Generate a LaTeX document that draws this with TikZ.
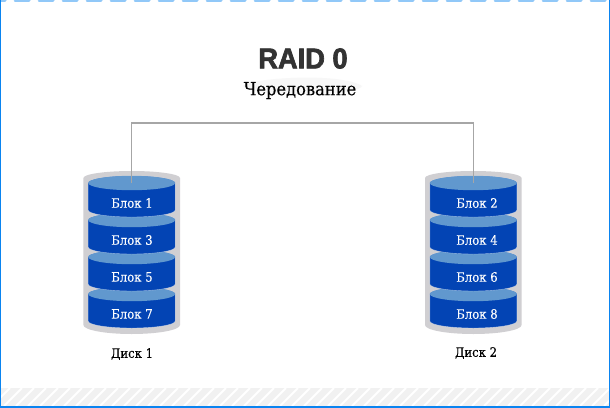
\documentclass[tikz,border=0pt]{standalone}
\usepackage{fontspec}
\setmainfont[FakeBold=0.25]{DejaVu Serif Condensed}
\newfontfamily\titlefont[FakeBold=2.4,FakeStretch=0.95]{Liberation Sans Bold}
\definecolor{diskblue}{HTML}{0344B4}
\definecolor{disktop}{HTML}{6198CE}
\definecolor{diskgrey}{HTML}{D0CFD2}
\definecolor{frameblue}{HTML}{0A84F0}
\definecolor{stripgrey}{HTML}{F1F1F1}
\definecolor{linegrey}{HTML}{A6A6A6}
\definecolor{titlegrey}{HTML}{333333}
\tikzset{
    blocktext/.style={text=white, font=\fontsize{9.7}{11}\selectfont, inner sep=0pt},
    disktext/.style={text=black, font=\fontsize{9.7}{11}\selectfont, inner sep=0pt},
    cyl/.pic={
        \fill[diskblue, draw=white, draw opacity=0.5, line width=0.3pt]
            (-43.5,0) -- (-43.5,27) arc[start angle=180, end angle=360, x radius=43.5, y radius=-7]
            -- (43.5,0) arc[start angle=0, end angle=180, x radius=43.5, y radius=-7] -- cycle;
        \fill[disktop] (0,0) ellipse[x radius=43.5, y radius=7.2];
    },
    shell/.pic={
        \fill[diskgrey] (-48.3,0) -- (-48.3,147) arc[start angle=180, end angle=360, x radius=48.3, y radius=-9]
            -- (48.3,0) arc[start angle=0, end angle=180, x radius=48.3, y radius=-7] -- cycle;
    }
}
\begin{document}
\begin{tikzpicture}[x=0.75pt, y=-0.75pt]
    \useasboundingbox (0,0) rectangle (610,407);
    \fill[white] (0,0) rectangle (610,407);

    % footer strip
    \fill[stripgrey] (0,388) rectangle (610,406);
    \fill[frameblue!45] (0,0) rectangle (610,2);
    \begin{scope}
        \clip (0,388) rectangle (610,406);
        \foreach \i in {-20,-8,...,620}
            \draw[white, line width=1.4pt] (\i,406) -- (\i+18,388);
    \end{scope}
    \begin{scope}
        \clip (0,0) rectangle (610,2);
        \foreach \i in {8,32,...,620}
            \draw[white, line width=5pt] (\i,4) -- (\i+4,-1);
    \end{scope}
    \draw[frameblue, line width=2pt] (0,0) -- (0,407);
    \draw[frameblue, line width=2pt] (0,407) -- (610,407);
    \draw[frameblue, line width=2pt] (610,0) -- (610,407);

    % titles
    \fill[black!3] (243,86) .. controls (250,78) and (340,72) .. (362,86) .. controls (360,96) and (250,98) .. (243,86);
    \node[text=titlegrey, font=\titlefont\fontsize{21.5}{24}\selectfont, inner sep=0pt] (title) at (303,58.5) {RAID 0};
    \node[text=black, font=\fontsize{13.6}{15}\selectfont, inner sep=0pt] (sub) at (300,90.5) {Чередование};

    % left disk
    \path (131.7,178) pic {shell};
    \path (131.7,294) pic {cyl};
    \path (131.7,257) pic {cyl};
    \path (131.7,220) pic {cyl};
    \path (131.7,183) pic {cyl};
    \coordinate (d1) at (131.7,183);
    \node[blocktext] (b1) at (132,203) {Блок 1};
    \node[blocktext] (b3) at (132,240) {Блок 3};
    \node[blocktext] (b5) at (132,277) {Блок 5};
    \node[blocktext] (b7) at (132,314) {Блок 7};
    \node[disktext] (disk1) at (132,354) {Диск 1};

    % right disk
    \path (473.3,178) pic {shell};
    \path (473.3,294) pic {cyl};
    \path (473.3,257) pic {cyl};
    \path (473.3,220) pic {cyl};
    \path (473.3,183) pic {cyl};
    \coordinate (d2) at (473.3,183);
    \node[blocktext] (b2) at (477,203) {Блок 2};
    \node[blocktext] (b4) at (477,240) {Блок 4};
    \node[blocktext] (b6) at (477,277) {Блок 6};
    \node[blocktext] (b8) at (477,314) {Блок 8};
    \node[disktext] (disk2) at (476,353) {Диск 2};

    \draw[linegrey, line width=0.8pt] (d1) |- (303,123) -| (d2);
\end{tikzpicture}
\end{document}
